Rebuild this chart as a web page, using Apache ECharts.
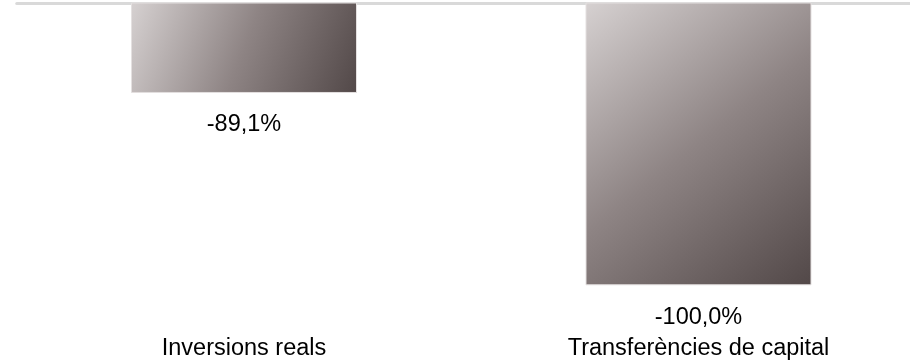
<!DOCTYPE html>
<html>
<head>
<meta charset="utf-8">
<script src="https://cdn.jsdelivr.net/npm/echarts@6/dist/echarts.min.js"></script>
<style>
  html, body { margin: 0; padding: 0; background: #fff; }
  #chart { width: 910px; height: 360px; }
</style>
</head>
<body>
<div id="chart"></div>
<script>
  // categories and values
  var categories = ['Inversions reals', 'Transferències de capital'];
  var values = [-89.1, -100.0];
  // value axis range (bars hang from the top line at -84)
  var axisMin = -100;
  var axisMax = -84;

  var chart = echarts.init(document.getElementById('chart'));

  var barColor = new echarts.graphic.LinearGradient(0, 0, 1, 1, [
    { offset: 0, color: '#d6d1d1' },
    { offset: 0.5, color: '#8e8484' },
    { offset: 1, color: '#524848' }
  ]);

  chart.setOption({
    animation: false,
    grid: {
      left: 16.75, right: -15.75, top: 3, bottom: 74.7,
      containLabel: false, outerBoundsMode: 'none'
    },
    xAxis: [
      {
        type: 'category',
        data: categories,
        position: 'top',
        axisLine: { show: true, lineStyle: { color: '#d9d9d9', width: 3 } },
        axisTick: { show: false },
        axisLabel: { show: false }
      },
      {
        type: 'category',
        data: categories,
        position: 'bottom',
        axisLine: { show: false },
        axisTick: { show: false },
        axisLabel: {
          margin: 51,
          color: '#000',
          fontFamily: 'Liberation Sans, Arial, sans-serif',
          fontSize: 23.5
        }
      }
    ],
    yAxis: {
      type: 'value',
      min: axisMin,
      max: axisMax,
      show: false,
      splitLine: { show: false }
    },
    series: [{
      type: 'bar',
      data: values,
      barWidth: 226,
      clip: true,
      itemStyle: { color: barColor, borderColor: '#e4e0e0', borderWidth: 1 },
      label: {
        show: true,
        position: 'bottom',
        distance: 20,
        color: '#000',
        fontFamily: 'Liberation Sans, Arial, sans-serif',
        fontSize: 23.5,
        formatter: function (p) {
          return p.value.toFixed(1).replace('.', ',') + '%';
        }
      }
    }]
  });
</script>
</body>
</html>
